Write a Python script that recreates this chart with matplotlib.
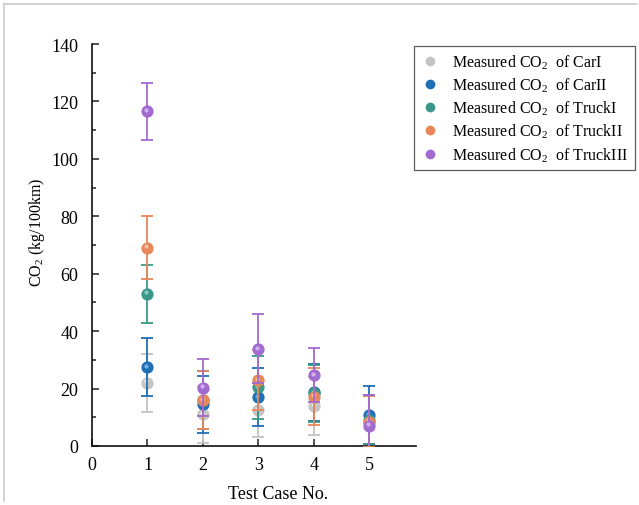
import matplotlib
matplotlib.use("Agg")
import matplotlib.pyplot as plt
import matplotlib.transforms as mtransforms
from matplotlib.lines import Line2D
import numpy as np

plt.rcParams['font.family'] = ['Liberation Serif', 'DejaVu Serif']
plt.rcParams['mathtext.fontset'] = 'custom'
plt.rcParams['mathtext.rm'] = 'Liberation Serif'
plt.rcParams['mathtext.it'] = 'Liberation Serif:italic'

cases = [1, 2, 3, 4, 5]
series_names = ["CarI", "CarII", "TruckI", "TruckII", "TruckIII"]
carI = [22, 11, 12.5, 14, 8]
carI_err = [10, 10, 9.5, 10, 9.5]
carII = [27.5, 14.5, 17, 18.7, 10.8]
carII_err = [10, 10, 10, 10, 10]
truckI = [53, 16, 20.5, 18.3, 9.2]
truckI_err = [10, 10, 11, 10, 8.6]
truckII = [69, 16, 23, 17.2, 8.5]
truckII_err = [11, 10, 10.5, 10, 9]
truckIII = [116.5, 20.3, 33.8, 24.7, 7.1]
truckIII_err = [10, 10, 12, 9.5, 10.5]

colors = ["#c4c4c4", "#1f6fb5", "#3b978a", "#e8885a", "#a26bd0"]
highlights = ["#eeeeee", "#7fb5e6", "#8fd0c4", "#f8c4a6", "#d8b8f0"]

fig = plt.figure(figsize=(6.39, 5.06), dpi=100)
ax = fig.add_axes([92/639, 1-447/506, (416-92)/639, (447-45)/506])

all_vals = [carI, carII, truckI, truckII, truckIII]
all_errs = [carI_err, carII_err, truckI_err, truckII_err, truckIII_err]

handles = []
for i, (vals, errs) in enumerate(zip(all_vals, all_errs)):
    z = 3 + i
    ax.errorbar(cases, vals, yerr=errs, fmt='none', ecolor=colors[i],
                elinewidth=1.3, capsize=4.2, capthick=1.3, zorder=z)
    ax.plot(cases, vals, 'o', ms=7.8, color=colors[i], mec=colors[i], zorder=z + 0.1)
    tr = mtransforms.offset_copy(ax.transData, fig=fig, x=-1.0, y=1.0, units='points')
    ax.plot(cases, vals, 'o', ms=3.0, color=highlights[i], mec='none',
            transform=tr, zorder=z + 0.2, alpha=0.9)
    handles.append(Line2D([], [], marker='o', ls='none', ms=6, color=colors[i], mec=colors[i]))

ax.set_xlim(0, 5.84)
ax.set_ylim(0, 140)
ax.set_xticks([0, 1, 2, 3, 4, 5])
ax.set_yticks(np.arange(0, 141, 20))
ax.set_yticks(np.arange(10, 140, 20), minor=True)
ax.tick_params(axis='both', which='both', direction='in', labelsize=13, width=1.1, color='#222222')
ax.tick_params(axis='y', which='major', length=5, pad=10)
ax.tick_params(axis='y', which='minor', length=3)
ax.tick_params(axis='x', which='major', length=5, pad=7)
for s in ['top', 'right']:
    ax.spines[s].set_visible(False)
for s in ['left', 'bottom']:
    ax.spines[s].set_linewidth(1.2)
    ax.spines[s].set_color('#111111')

ax.set_xlabel("Test Case No.", fontsize=13)
ax.set_ylabel("CO$_2$ (kg/100km)", fontsize=11.5)
ax.xaxis.set_label_coords((278-92)/(416-92), -(486-447)/(447-45))
ax.yaxis.set_label_coords(-(92-47)/(416-92), (447-232)/(447-45))

labels = ["Measured CO$_2$  of " + n for n in series_names]
leg = fig.legend(handles, labels, loc='upper left', bbox_to_anchor=(414/639, 1-47/506),
                 borderaxespad=0, frameon=True, fancybox=False, edgecolor='#333333',
                 fontsize=11.5, handlelength=1.2, handletextpad=0.8, borderpad=0.4,
                 labelspacing=0.3)
leg.get_frame().set_linewidth(0.9)

fig.add_artist(Line2D([4/639, 637/639], [1-5/506, 1-5/506], color='#cccccc', lw=1.2))
fig.add_artist(Line2D([4/639, 4/639], [1-5/506, 1-502/506], color='#cccccc', lw=1.2))

fig.savefig("out.png", dpi=100)
